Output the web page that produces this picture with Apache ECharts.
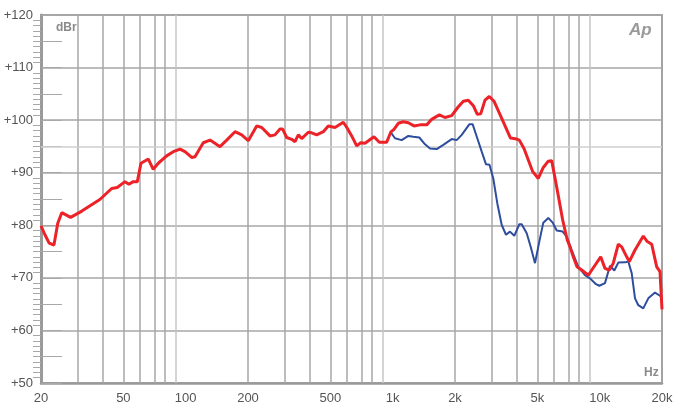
<!DOCTYPE html>
<html><head><meta charset="utf-8">
<script src="https://cdn.jsdelivr.net/npm/echarts@6/dist/echarts.min.js"></script>
<style>html,body{margin:0;padding:0;background:#fff}#c{width:677px;height:403px}</style>
</head><body><div id="c"></div>
<script>
// Frequencies in Hz, levels in dBr
const redFreq = [20,20.9,21.9,23.1,24.1,25.2,27.8,31.5,34.5,38.5,43.9,46.7,50.9,53.2,55.8,58.4,60.8,66,69.7,73.7,80.9,87.1,93.9,99.2,106.9,110.9,121.6,131.1,146.5,157.8,173.1,186.5,200.6,220.3,232.9,255.5,270,285.5,294,307.6,325.2,337.4,350,363.4,391.1,406.2,429.5,462.1,488.6,526.3,577.3,603.5,633.9,670,700.5,734.9,812.3,861.6,935.4,978.2,1014.6,1064.4,1125,1189.6,1267.7,1354.9,1460,1543,1680,1789,1928,2075,2194,2320,2452,2563,2662,2792,2929,3086,3363,3708,3973,4090,4309,4748,5050,5341,5646,5864,6199,6626,6973,7187,7455,7769,8187,8810,9491,10114,10607,11128,11634,12300,12774,13507,13900,14814,16241,16982,17838,18857,19561,20000];
const redDb = [79.9,78.2,76.6,76.25,80.4,82.4,81.5,82.7,83.7,84.9,87.0,87.2,88.3,87.8,88.3,88.3,91.8,92.6,90.65,91.8,93.2,94.0,94.5,94.0,92.9,93.05,95.7,96.2,94.95,96.2,97.8,97.2,96.1,98.9,98.6,97.0,97.2,98.3,98.3,96.7,96.35,95.9,97.2,96.5,97.7,97.6,97.2,97.8,98.9,98.6,99.6,98.45,97.0,95.1,95.7,95.6,96.85,95.8,95.8,97.7,98.25,99.4,99.7,99.5,98.9,99.1,99.1,100.15,101.0,100.5,100.85,102.55,103.6,103.8,102.75,101.1,101.2,103.8,104.5,103.6,100.35,96.6,96.4,96.2,94.6,90.2,88.9,91.0,92.2,92.3,87.3,81.0,77.2,75.9,74.0,72.1,71.5,70.5,72.4,74.0,71.8,71.5,72.8,76.4,75.9,74.0,73.1,75.3,77.95,76.9,76.4,72.1,71.2,64.0];

const blueFreq = [978.2,1026,1105,1190,1258,1345,1433,1514,1632,1756,1928,2038,2155,2345,2435,2563,2692,2824,2936,3062,3201,3363,3528,3687,3867,4090,4201,4441,4642,4870,5108,5341,5646,5929,6199,6626,6927,7324,7882,8492,8979,9598,9957,10607,11215,11766,12300,13254,13748,14276,14814,15367,16241,17171,18505,19561,20000];
const blueDb = [97.7,96.55,96.2,97.0,96.85,96.7,95.4,94.6,94.5,95.3,96.4,96.2,97.2,99.2,99.2,96.55,94.0,91.6,91.5,88.9,84.2,80.05,78.2,78.8,78.0,80.2,80.2,78.5,75.9,72.8,76.9,80.5,81.4,80.5,79.0,78.8,77.85,75.3,72.1,70.5,69.9,68.8,68.5,69.0,72.3,71.4,72.9,72.95,73.1,70.9,66.1,64.8,64.2,66.1,67.2,66.6,66.2];

const xTickLabels = [20,50,100,200,500,1000,2000,5000,10000,20000];
const xGridFreqs = [30,40,50,60,70,80,90,200,300,400,500,600,700,800,900,2000,3000,4000,5000,6000,7000,8000,9000];
const xLightGrid = [90,900,9000];
const yMin = 50, yMax = 120, yStep = 10;
const yRefLine = 95;

const lg = Math.log10;
const toPts = (fs, ds) => fs.map((f, i) => [lg(f), ds[i]]);
const fmtHz = v => { const f = Math.round(Math.pow(10, v)); return f >= 1000 ? (f / 1000) + 'k' : String(f); };

const gridColor = '#a7a7a7';
const chart = echarts.init(document.getElementById('c'), null, {renderer: 'canvas'});
chart.setOption({
  animation: false,
  backgroundColor: '#fff',
  grid: {left: 41, right: 15, top: 15, bottom: 20, outerBoundsMode: 'none', containLabel: false, show: true, borderColor: '#a3a3a3', borderWidth: 2, backgroundColor: 'transparent'},
  xAxis: {
    type: 'value', min: lg(20), max: lg(20000),
    axisLine: {show: true, lineStyle: {color: '#9a9a9a', width: 2.5}},
    axisTick: {show: false},
    splitLine: {show: false},
    axisLabel: {customValues: xTickLabels.map(lg), formatter: fmtHz, color: '#555', fontFamily: 'Liberation Sans', fontSize: 13, margin: 9}
  },
  yAxis: [{
    type: 'value', min: yMin, max: yMax, interval: yStep,
    axisLine: {show: true, lineStyle: {color: '#9a9a9a', width: 3}},
    axisTick: {show: false},
    minorTick: {show: true, splitNumber: 10, length: 8, lineStyle: {color: '#a8a8a8', width: 1}},
    axisLabel: {formatter: v => '+' + v, color: '#555', fontFamily: 'Liberation Sans', fontSize: 13, margin: 8},
    splitLine: {show: true, lineStyle: {color: gridColor, width: 1.5}}
  }, {
    type: 'value', min: yMin, max: yMax, interval: 5, position: 'left', offset: 0,
    axisLine: {show: false},
    axisTick: {show: true, inside: true, length: 21, lineStyle: {color: '#a8a8a8', width: 1}},
    axisLabel: {show: false},
    splitLine: {show: false}
  }],
  graphic: [
    {type: 'text', left: 56, top: 22, style: {text: 'dBr', fill: '#8a8a8a', font: 'bold 12px "Liberation Sans"'}},
    {type: 'text', left: 644, top: 367, style: {text: 'Hz', fill: '#8a8a8a', font: 'bold 12px "Liberation Sans"'}},
    {type: 'text', left: 629, top: 22, style: {text: 'Ap', fill: '#9a9a9a', font: 'italic bold 17px "Liberation Sans"'}}
  ],
  series: [
    {
      type: 'line', data: [], z: 1,
      markLine: {
        silent: true, symbol: 'none', z: 1, animation: false, label: {show: false},
        data: xGridFreqs.map(f => ({xAxis: lg(f), lineStyle: {type: 'solid', width: 1.5, color: xLightGrid.includes(f) ? '#c6c6c6' : gridColor}}))
          .concat([{yAxis: yRefLine, lineStyle: {type: 'solid', width: 1.5, color: '#cfcfcf'}}])
      }
    },
    {type: 'line', name: 'blue', data: toPts(blueFreq, blueDb), showSymbol: false, z: 3, lineStyle: {color: '#2f4d9e', width: 2}},
    {type: 'line', name: 'red', data: toPts(redFreq, redDb), showSymbol: false, z: 4, lineStyle: {color: '#ec2228', width: 3}}
  ]
});
</script>
</body></html>
